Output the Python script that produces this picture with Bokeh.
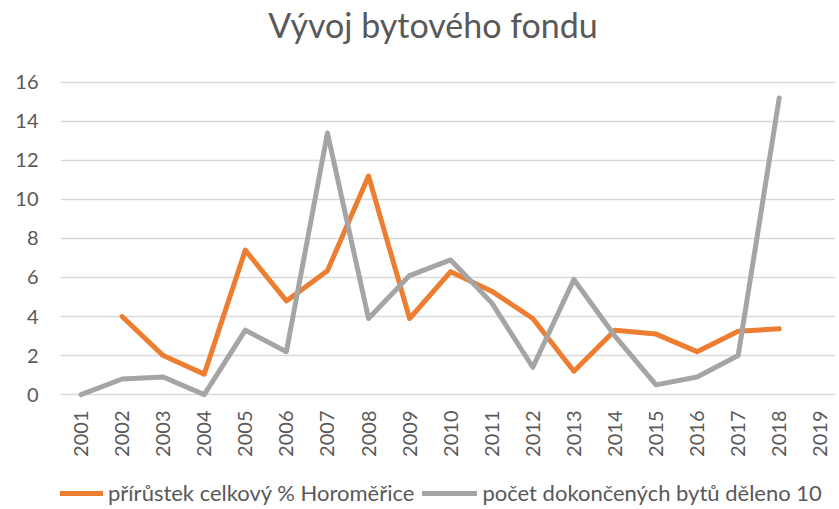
import math
from bokeh.plotting import figure
from bokeh.layouts import column
from bokeh.models import (Range1d, FixedTicker, Legend, LegendItem, ColumnDataSource, Label)
from bokeh.embed import file_html
from bokeh.resources import INLINE

NAN = float("nan")

years = [2001, 2002, 2003, 2004, 2005, 2006, 2007, 2008, 2009, 2010,
         2011, 2012, 2013, 2014, 2015, 2016, 2017, 2018, 2019]
prirustek = [NAN, 4.0, 2.0, 1.05, 7.4, 4.8, 6.35, 11.2, 3.9, 6.3,
             5.3, 3.9, 1.2, 3.3, 3.1, 2.2, 3.25, 3.37, NAN]
byty = [0.0, 0.8, 0.9, 0.0, 3.3, 2.2, 13.4, 3.9, 6.1, 6.9,
        4.7, 1.4, 5.9, 3.0, 0.5, 0.9, 2.0, 15.2, NAN]
y_ticks = [0, 2, 4, 6, 8, 10, 12, 14, 16]
title_text = "Vývoj bytového fondu"
label_a = "přírůstek celkový % Horoměřice"
label_b = "počet dokončených bytů děleno 10"

FONT = "Lato"
TXT = "#595959"
ORANGE = "#ED7D31"
GRAY = "#A5A5A5"
W = 835
LEFT = 60  # frame left edge shared by all stacked figures

src = ColumnDataSource(dict(x=years, a=prirustek, b=byty))


def blank(height):
    f = figure(width=W, height=height, output_backend="svg", toolbar_location=None,
               x_range=Range1d(LEFT, W), y_range=Range1d(0, height),
               x_axis_location=None, y_axis_location=None,
               min_border_left=LEFT, min_border_right=0, min_border_top=0,
               min_border_bottom=0)
    f.grid.visible = False
    f.outline_line_color = None
    return f


# title strip
pt = blank(62)
pt.add_layout(Label(x=432.5, y=38, text=title_text, text_align="center",
                    text_baseline="alphabetic", text_font=FONT,
                    text_font_size="34px", text_color=TXT))

# main chart
p = figure(width=W, height=406, output_backend="svg", toolbar_location=None,
           x_range=Range1d(2000.5, 2019.37), y_range=Range1d(-0.2, 16.35),
           min_border_left=LEFT, min_border_right=0, min_border_top=13,
           min_border_bottom=70)
p.outline_line_color = None
p.background_fill_color = "white"
p.border_fill_color = "white"

for ax in (p.xaxis[0], p.yaxis[0]):
    ax.axis_line_color = None
    ax.major_tick_line_color = None
    ax.minor_tick_line_color = None
    ax.major_tick_out = 0
    ax.major_tick_in = 0
    ax.minor_tick_out = 0
    ax.minor_tick_in = 0
    ax.axis_label_standoff = 0
    ax.major_label_text_font = FONT
    ax.major_label_text_font_size = "20px"
    ax.major_label_text_color = TXT

p.yaxis.ticker = FixedTicker(ticks=y_ticks)
p.yaxis.major_label_standoff = 22

p.xaxis.ticker = FixedTicker(ticks=years)
p.xaxis.major_label_orientation = math.pi / 2
p.xaxis.major_label_standoff = 12

p.xgrid.grid_line_color = None
p.ygrid.ticker = FixedTicker(ticks=y_ticks)
p.ygrid.grid_line_color = "#D9D9D9"
p.ygrid.grid_line_width = 1.3

p.line("x", "a", source=src, line_color=ORANGE, line_width=5,
       line_cap="round", line_join="round")
p.line("x", "b", source=src, line_color=GRAY, line_width=5,
       line_cap="round", line_join="round")

# legend strip (series drawn outside its visible range, used only for samples)
pl = blank(40)
la = pl.line("x", "a", source=src, line_color=ORANGE, line_width=5, line_cap="round")
lb = pl.line("x", "b", source=src, line_color=GRAY, line_width=5, line_cap="round")

legend = Legend(items=[LegendItem(label=label_a, renderers=[la]),
                       LegendItem(label=label_b, renderers=[lb])],
                orientation="horizontal", location=(-12, 2),
                border_line_color=None, background_fill_alpha=0,
                label_text_font=FONT, label_text_font_size="22px",
                label_text_color=TXT, glyph_width=55, glyph_height=20,
                label_height=20,
                label_standoff=5, spacing=8, padding=0, margin=0)
pl.add_layout(legend)

open("out.html", "w").write(file_html(column(pt, p, pl, spacing=0), INLINE))
